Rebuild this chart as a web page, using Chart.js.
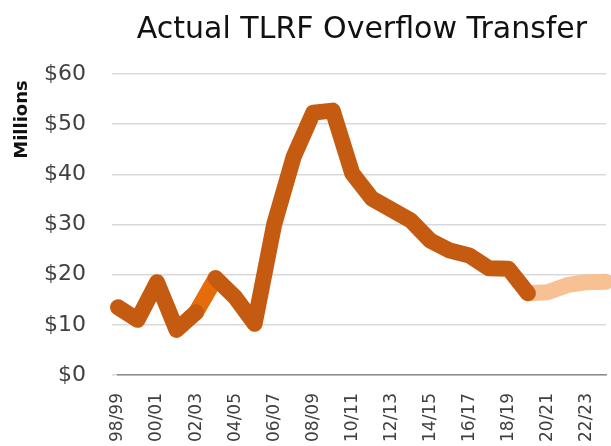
<!DOCTYPE html>
<html>
<head>
<meta charset="utf-8">
<script src="https://cdn.jsdelivr.net/npm/chart.js@4/dist/chart.umd.min.js"></script>
<style>
  html, body { margin: 0; padding: 0; background: #fff; overflow: hidden; }
  #wrap { width: 611px; height: 446px; position: relative; }
</style>
</head>
<body>
<div id="wrap"><canvas id="chart"></canvas></div>
<script>
const YEARS = ['98/99', '99/00', '00/01', '01/02', '02/03', '03/04', '04/05', '05/06', '06/07',
  '07/08', '08/09', '09/10', '10/11', '11/12', '12/13', '13/14', '14/15', '15/16', '16/17',
  '17/18', '18/19', '19/20', '20/21', '21/22', '22/23', '23/24'];

// actual transfer, $ millions
const ACTUAL = [13.5, 11, 18.5, 9, 12.5, 19.3, 15.5, 10.2, 30, 43.5, 52.3, 52.7, 40.2, 35.2,
  33, 30.8, 26.8, 24.8, 23.8, 21.3, 21.2, 16.3];

// the one segment drawn in a brighter orange (02/03 -> 03/04)
const HIGHLIGHT = [null, null, null, null, 12.5, 19.3];

// projected tail, starts at 19/20
const PROJECTED = [null, null, null, null, null, null, null, null, null, null, null, null, null,
  null, null, null, null, null, null, null, null, 16.3, 16.5, 17.9, 18.5, 18.6];

const Y_TICKS = [0, 10, 20, 30, 40, 50, 60];

const DARK = '#C55A11';
const MID = '#E46C0A';
const LIGHT = '#F8C194';
const FONT = '"DejaVu Sans", sans-serif';

function lineSet(data, color, order) {
  return {
    data,
    borderColor: color,
    borderWidth: 16,
    borderCapStyle: 'round',
    borderJoinStyle: 'round',
    pointRadius: 0,
    tension: 0,
    clip: false,
    order,
  };
}

const actualSet = lineSet(ACTUAL, DARK, 0);
actualSet.segment = {
  borderColor: (ctx) => (ctx.p0DataIndex === 4 ? 'rgba(0,0,0,0)' : DARK),
};

new Chart(document.getElementById('chart'), {
  type: 'line',
  data: {
    labels: YEARS,
    datasets: [
      actualSet,
      lineSet(HIGHLIGHT, MID, 1),
      lineSet(PROJECTED, LIGHT, 2),
    ],
  },
  options: {
    responsive: true,
    maintainAspectRatio: false,
    animation: false,
    layout: { padding: { left: 4, right: 0, top: 0, bottom: 0 } },
    plugins: {
      legend: { display: false },
      tooltip: { enabled: false },
      title: {
        display: true,
        text: 'Actual TLRF Overflow Transfer',
        fullSize: false,
        color: '#111',
        font: { family: FONT, size: 30, weight: 'normal' },
        padding: { top: 12, bottom: 26 },
      },
    },
    scales: {
      x: {
        grid: { display: false },
        border: { display: true, color: '#8C8C8C', width: 1.5 },
        afterFit: (scale) => {
          scale.height = 71;
          scale.paddingLeft = 0;
          scale.paddingRight = 5;
        },
        ticks: {
          autoSkip: false,
          minRotation: 90,
          maxRotation: 90,
          padding: 10,
          color: '#404040',
          font: { family: FONT, size: 17 },
          callback: (v, i) => (i % 2 === 0 ? YEARS[i] : ''),
        },
      },
      y: {
        min: 0,
        max: 60,
        afterBuildTicks: (scale) => { scale.ticks = Y_TICKS.map((v) => ({ value: v })); },
        afterFit: (scale) => { scale.width = 114; },
        border: { display: false },
        grid: { color: '#D9D9D9', lineWidth: 1.5, tickLength: 6, tickColor: '#D9D9D9' },
        ticks: {
          padding: 26,
          color: '#404040',
          font: { family: FONT, size: 22 },
          callback: (v) => '$' + v,
        },
        title: {
          display: true,
          text: 'Millions ',
          align: 'end',
          color: '#111',
          font: { family: FONT, size: 18, weight: 'bold' },
          padding: { top: 8, bottom: 0 },
        },
      },
    },
  },
});
</script>
</body>
</html>
